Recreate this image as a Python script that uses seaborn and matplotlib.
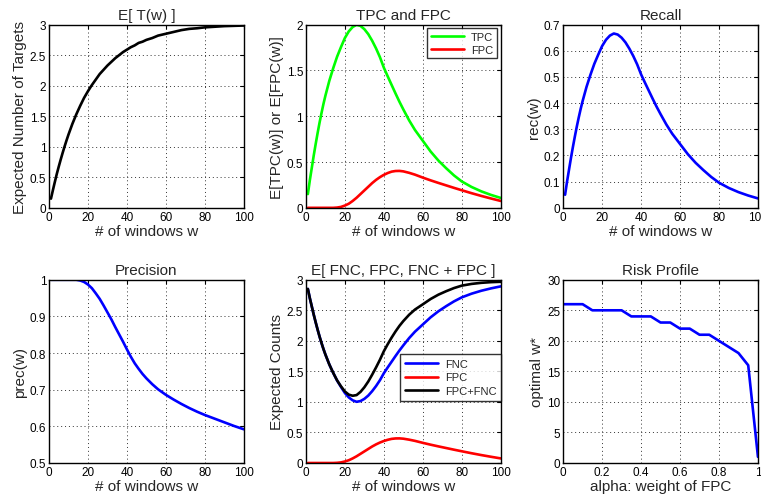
import numpy as np
import pandas as pd
import matplotlib
matplotlib.use("Agg")
import matplotlib.pyplot as plt
from matplotlib.ticker import FuncFormatter, MultipleLocator
import seaborn as sns

# ---------------- data ----------------
w = [1, 2, 3, 4, 5, 6, 7, 8, 9, 10, 12, 14, 16, 18, 20, 22, 24, 26, 28, 30, 32, 34, 36, 38,
     40, 42, 44, 46, 48, 50, 53, 56, 60, 64, 68, 72, 76, 80, 85, 90, 95, 100]

expected_targets = [0.15, 0.29, 0.425, 0.555, 0.675, 0.79, 0.90, 1.005, 1.105, 1.20, 1.375, 1.53,
                    1.67, 1.80, 1.91, 2.01, 2.10, 2.19, 2.26, 2.33, 2.39, 2.45, 2.50, 2.55,
                    2.59, 2.63, 2.66, 2.70, 2.72, 2.75, 2.78, 2.82, 2.85, 2.88, 2.91, 2.93,
                    2.94, 2.955, 2.965, 2.975, 2.98, 2.985]
tpc = [0.15, 0.30, 0.435, 0.57, 0.696, 0.816, 0.93, 1.035, 1.134, 1.224, 1.386, 1.524,
       1.65, 1.755, 1.854, 1.926, 1.974, 1.998, 1.986, 1.95, 1.896, 1.824, 1.74, 1.644,
       1.53, 1.434, 1.341, 1.248, 1.158, 1.074, 0.954, 0.849, 0.732, 0.615, 0.516, 0.432,
       0.354, 0.288, 0.228, 0.18, 0.141, 0.108]
fpc = [0.0, 0.0, 0.0, 0.0, 0.0, 0.0, 0.0, 0.0, 0.0, 0.0, 0.0, 0.0,
       0.003, 0.01, 0.025, 0.045, 0.075, 0.11, 0.15, 0.19, 0.23, 0.27, 0.305, 0.335,
       0.36, 0.38, 0.395, 0.402, 0.403, 0.398, 0.382, 0.362, 0.33, 0.30, 0.272, 0.245,
       0.218, 0.192, 0.16, 0.13, 0.102, 0.075]
recall = [0.05, 0.10, 0.145, 0.19, 0.232, 0.272, 0.31, 0.345, 0.378, 0.408, 0.462, 0.508,
          0.55, 0.585, 0.618, 0.642, 0.658, 0.666, 0.662, 0.65, 0.632, 0.608, 0.58, 0.548,
          0.51, 0.478, 0.447, 0.416, 0.386, 0.358, 0.318, 0.283, 0.244, 0.205, 0.172, 0.144,
          0.118, 0.096, 0.076, 0.06, 0.047, 0.036]
precision = [1.0, 1.0, 1.0, 1.0, 1.0, 1.0, 1.0, 1.0, 1.0, 1.0, 1.0, 1.0,
             0.998, 0.994, 0.987, 0.977, 0.963, 0.948, 0.93, 0.911, 0.892, 0.871, 0.851, 0.831,
             0.81, 0.79, 0.772, 0.757, 0.743, 0.731, 0.715, 0.701, 0.686, 0.673, 0.661, 0.65,
             0.64, 0.631, 0.621, 0.611, 0.601, 0.592]
fnc = [2.85, 2.70, 2.565, 2.43, 2.304, 2.184, 2.07, 1.965, 1.866, 1.776, 1.614, 1.476,
       1.35, 1.245, 1.146, 1.074, 1.026, 1.002, 1.014, 1.05, 1.104, 1.176, 1.26, 1.356,
       1.47, 1.566, 1.659, 1.752, 1.842, 1.926, 2.046, 2.151, 2.268, 2.385, 2.484, 2.568,
       2.646, 2.712, 2.772, 2.82, 2.859, 2.892]
fpc_plus_fnc = [2.85, 2.70, 2.565, 2.43, 2.304, 2.184, 2.07, 1.965, 1.866, 1.776, 1.614, 1.476,
                1.353, 1.255, 1.171, 1.119, 1.101, 1.112, 1.164, 1.24, 1.334, 1.446, 1.565, 1.691,
                1.83, 1.946, 2.054, 2.154, 2.245, 2.324, 2.428, 2.513, 2.598, 2.685, 2.756, 2.813,
                2.864, 2.904, 2.932, 2.95, 2.961, 2.967]

alpha = [0.0, 0.05, 0.10, 0.15, 0.20, 0.25, 0.30, 0.35, 0.40, 0.45, 0.50,
         0.55, 0.60, 0.65, 0.70, 0.75, 0.80, 0.85, 0.90, 0.95, 1.0]
optimal_w = [26, 26, 26, 25, 25, 25, 25, 24, 24, 24, 23,
             23, 22, 22, 21, 21, 20, 19, 18, 16, 1]

# ---------------- style ----------------
sns.set_style("white")
plt.rcParams['font.family'] = ['Liberation Sans', 'DejaVu Sans']
plt.rcParams['axes.linewidth'] = 1.0
plt.rcParams['xtick.direction'] = 'in'
plt.rcParams['ytick.direction'] = 'in'

TICK_FS = 8.5
LABEL_FS = 11
TITLE_FS = 11
LW = 1.9

fig = plt.figure(figsize=(7.61, 5.02), dpi=100)
lefts = [0.0644, 0.402, 0.740]
W, H = 0.256, 0.365
bottoms = [0.584, 0.0757]
axes = [[fig.add_axes([l, b, W, H]) for l in lefts] for b in bottoms]

fmt = FuncFormatter(lambda v, p: ('%g' % round(v, 6)))


def style(ax, xlim, ylim, xstep, ystep, title, xlabel, ylabel):
    ax.set_xlim(*xlim)
    ax.set_ylim(*ylim)
    ax.xaxis.set_major_locator(MultipleLocator(xstep))
    ax.yaxis.set_major_locator(MultipleLocator(ystep))
    ax.xaxis.set_major_formatter(fmt)
    ax.yaxis.set_major_formatter(fmt)
    ax.tick_params(axis='both', which='major', labelsize=TICK_FS, length=3, width=0.8,
                   top=True, right=True, pad=2, colors='black')
    ax.grid(True, linestyle=(0, (1, 3)), color='#333333', linewidth=0.7)
    for s in ax.spines.values():
        s.set_visible(True)
        s.set_color('black')
        s.set_linewidth(1.0)
    ax.set_title(title, fontsize=TITLE_FS, pad=4)
    ax.set_xlabel(xlabel, fontsize=LABEL_FS, labelpad=1)
    ax.set_ylabel(ylabel, fontsize=LABEL_FS, labelpad=2)


xl = '# of windows w'

# E[T(w)]
ax = axes[0][0]
sns.lineplot(x=w, y=expected_targets, ax=ax, color='black', lw=LW)
style(ax, (0, 100), (0, 3), 20, 0.5, 'E[ T(w) ]', xl, 'Expected Number of Targets')

# TPC and FPC
ax = axes[0][1]
sns.lineplot(x=w, y=tpc, ax=ax, color=(0, 1, 0), lw=LW, label='TPC')
sns.lineplot(x=w, y=fpc, ax=ax, color=(1, 0, 0), lw=LW, label='FPC')
style(ax, (0, 100), (0, 2), 20, 0.5, 'TPC and FPC', xl, 'E[TPC(w)] or E[FPC(w)]')
leg = ax.legend(loc='upper right', fontsize=8, frameon=True, fancybox=False,
                edgecolor='black', handlelength=3.0, borderpad=0.35, labelspacing=0.2,
                handletextpad=0.6, borderaxespad=0.35)
leg.get_frame().set_linewidth(1.0)

# Recall
ax = axes[0][2]
sns.lineplot(x=w, y=recall, ax=ax, color=(0, 0, 1), lw=LW)
style(ax, (0, 100), (0, 0.7), 20, 0.1, 'Recall', xl, 'rec(w)')

# Precision
ax = axes[1][0]
sns.lineplot(x=w, y=precision, ax=ax, color=(0, 0, 1), lw=LW)
style(ax, (0, 100), (0.5, 1), 20, 0.1, 'Precision', xl, 'prec(w)')

# E[FNC, FPC, FNC+FPC]
ax = axes[1][1]
sns.lineplot(x=w, y=fnc, ax=ax, color=(0, 0, 1), lw=LW, label='FNC')
sns.lineplot(x=w, y=fpc, ax=ax, color=(1, 0, 0), lw=LW, label='FPC')
sns.lineplot(x=w, y=fpc_plus_fnc, ax=ax, color='black', lw=LW, label='FPC+FNC')
style(ax, (0, 100), (0, 3), 20, 0.5, 'E[ FNC, FPC, FNC + FPC ]', xl, 'Expected Counts')
leg = ax.legend(loc='center right', bbox_to_anchor=(1.0, 0.467), fontsize=8, frameon=True,
                fancybox=False, edgecolor='black', handlelength=3.0, borderpad=0.4,
                labelspacing=0.35, handletextpad=0.6, borderaxespad=0.0)
leg.get_frame().set_linewidth(1.0)

# Risk profile
ax = axes[1][2]
sns.lineplot(x=alpha, y=optimal_w, ax=ax, color=(0, 0, 1), lw=LW)
style(ax, (0, 1), (0, 30), 0.2, 5, 'Risk Profile', 'alpha: weight of FPC', 'optimal w*')

fig.savefig('out.png', dpi=100, facecolor='white')
